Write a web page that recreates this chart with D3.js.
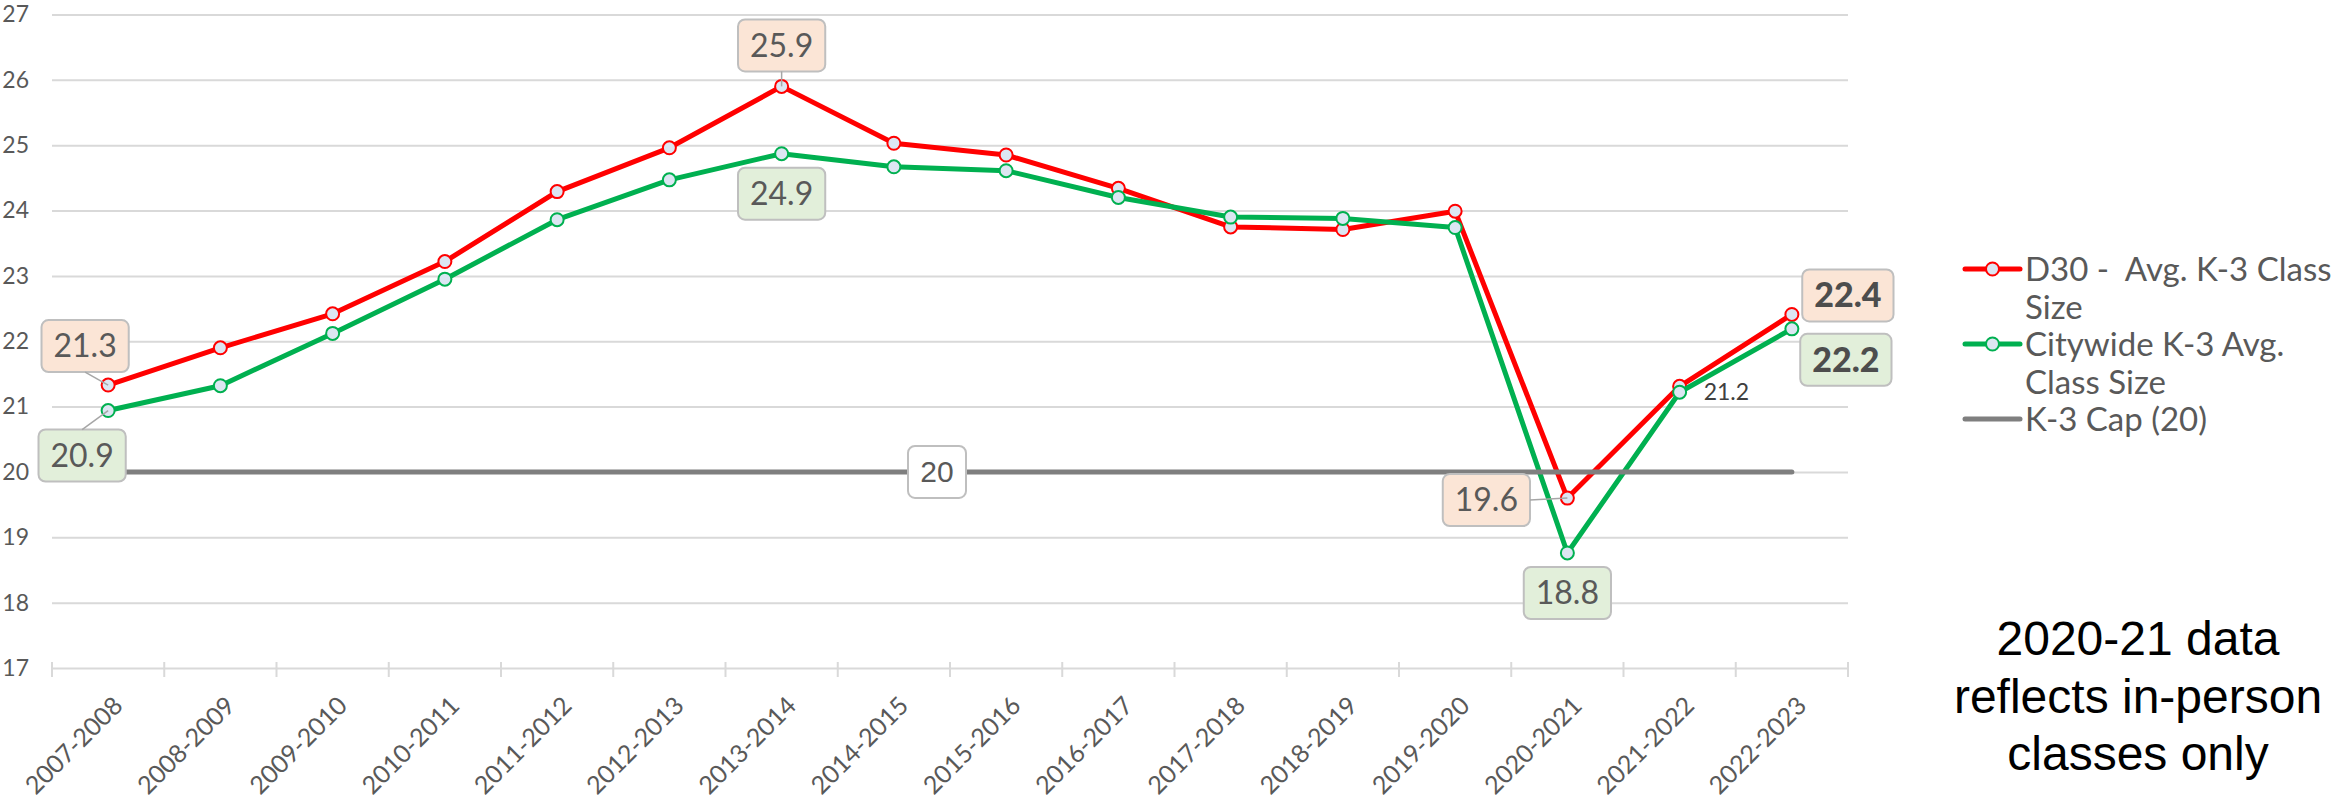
<!DOCTYPE html>
<html>
<head>
<meta charset="utf-8">
<script src="https://cdn.jsdelivr.net/npm/d3@7"></script>
<style>
  body { margin: 0; background: #fff; }
  svg { display: block; }
</style>
</head>
<body>
<svg id="chart" width="2331" height="804"></svg>
<script>
// chart data
const categories = ["2007-2008", "2008-2009", "2009-2010", "2010-2011", "2011-2012", "2012-2013",
  "2013-2014", "2014-2015", "2015-2016", "2016-2017", "2017-2018", "2018-2019", "2019-2020",
  "2020-2021", "2021-2022", "2022-2023"];
const d30 = [21.33, 21.9, 22.42, 23.22, 24.29, 24.96, 25.9, 25.03, 24.85, 24.34, 23.75, 23.71, 23.99, 19.6, 21.31, 22.41];
const citywide = [20.94, 21.32, 22.12, 22.95, 23.86, 24.47, 24.87, 24.67, 24.61, 24.2, 23.9, 23.88, 23.74, 18.76, 21.22, 22.19];
const capLine = [20, 20, 20, 20, 20, 20, 20, 20, 20, 20, 20, 20, 20, 20, 20, 20];
const yTicks = [17, 18, 19, 20, 21, 22, 23, 24, 25, 26, 27];
const legendLabels = [["D30 -  Avg. K-3 Class", "Size"], ["Citywide K-3 Avg.", "Class Size"], ["K-3 Cap (20)"]];
const noteLines = ["2020-21 data", "reflects in-person", "classes only"];

const svg = d3.select("#chart");
const plotL = 52, plotR = 1848, plotT = 14.5, plotB = 668;
const grey = "#595959";

const x = d3.scaleBand().domain(categories).range([plotL, plotR]);
const cx = i => x(categories[i]) + x.bandwidth() / 2;
const y = d3.scaleLinear().domain([17, 27]).range([plotB, plotT]);

// gridlines + y labels
svg.append("g")
  .attr("transform", `translate(${plotL},0)`)
  .call(d3.axisLeft(y).tickValues(yTicks).tickSize(-(plotR - plotL)).tickPadding(23).tickFormat(d3.format("d")))
  .call(g => g.select(".domain").remove())
  .call(g => g.selectAll("line").attr("stroke", "#d9d9d9").attr("stroke-width", 2))
  .call(g => g.selectAll("text").attr("fill", grey).style("font-family", "Lato").style("font-size", "23px"));

// category boundary ticks
svg.append("g").selectAll("line")
  .data(d3.range(categories.length + 1))
  .join("line")
  .attr("x1", i => plotL + i * x.step()).attr("x2", i => plotL + i * x.step())
  .attr("y1", plotB - 6).attr("y2", plotB + 9)
  .attr("stroke", "#d9d9d9").attr("stroke-width", 2);

// x labels
svg.append("g")
  .attr("transform", `translate(0,${plotB})`)
  .call(d3.axisBottom(x).tickSize(0))
  .call(g => g.select(".domain").remove())
  .call(g => g.selectAll("text")
    .attr("x", 0).attr("y", 0).attr("dy", "0.35em")
    .attr("text-anchor", "end")
    .attr("transform", "translate(10,33) rotate(-45)")
    .attr("fill", grey)
    .style("font-family", "Lato").style("font-size", "25px"));

const line = d3.line().x((d, i) => cx(i)).y(d => y(d));

function drawSeries(values, color) {
  svg.append("path").datum(values)
    .attr("d", line).attr("fill", "none")
    .attr("stroke", color).attr("stroke-width", 5)
    .attr("stroke-linejoin", "round");
  svg.append("g").selectAll("circle")
    .data(values).join("circle")
    .attr("cx", (d, i) => cx(i)).attr("cy", d => y(d)).attr("r", 6.5)
    .attr("fill", "#dce6f2").attr("stroke", color).attr("stroke-width", 2);
}
drawSeries(d30, "#ff0000");
drawSeries(citywide, "#00b050");

svg.append("path").datum(capLine)
  .attr("d", line).attr("fill", "none")
  .attr("stroke", "#7f7f7f").attr("stroke-width", 5).attr("stroke-linecap", "round");

// boxed data labels
const fmt = d3.format(".1f");
function box(bx, by, text, fill, opts) {
  const g = svg.append("g");
  const r = g.append("rect");
  const t = g.append("text")
    .attr("x", bx).attr("y", by).attr("dy", "0.35em")
    .attr("text-anchor", "middle")
    .attr("fill", opts.bold ? "#4d4d4d" : grey)
    .style("font-family", opts.font || "Lato")
    .style("font-size", (opts.size || 32) + "px")
    .style("font-weight", opts.bold ? "900" : "normal")
    .text(text);
  const w = opts.w || t.node().getComputedTextLength() + 24;
  const h = 52;
  r.attr("x", bx - w / 2).attr("y", by - h / 2).attr("width", w).attr("height", h)
    .attr("rx", 7).attr("fill", fill).attr("stroke", "#bfbfbf").attr("stroke-width", 2);
  return { x: bx, y: by, w, h };
}

const peach = "#fbe5d6", mint = "#e2efda";
const labelSpecs = [
  { vals: d30, i: 0, dx: -23, dy: -39, fill: peach, leader: "bottom" },
  { vals: citywide, i: 0, dx: -26, dy: 45, fill: mint, leader: "top" },
  { vals: d30, i: 6, dx: 0, dy: -41, fill: peach, leader: "bottom" },
  { vals: citywide, i: 6, dx: 0, dy: 40, fill: mint },
  { vals: d30, i: 13, dx: -81, dy: 2, fill: peach, leader: "right" },
  { vals: citywide, i: 13, dx: 0, dy: 40, fill: mint },
  { vals: d30, i: 15, dx: 56, dy: -19, fill: peach, bold: true },
  { vals: citywide, i: 15, dx: 54, dy: 31, fill: mint, bold: true }
];

labelSpecs.forEach(s => {
  const px = cx(s.i), py = y(s.vals[s.i]);
  const b = box(px + s.dx, py + s.dy, fmt(s.vals[s.i]), s.fill, { bold: s.bold, size: s.bold ? 34 : 32 });
  if (s.leader) {
    let sx = b.x, sy = b.y;
    if (s.leader === "bottom") sy = b.y + b.h / 2;
    if (s.leader === "top") sy = b.y - b.h / 2;
    if (s.leader === "right") sx = b.x + b.w / 2;
    svg.append("line")
      .attr("x1", sx).attr("y1", sy).attr("x2", px).attr("y2", py)
      .attr("stroke", "#a6a6a6").attr("stroke-width", 1.5);
  }
});

// plain label for citywide 2021-2022
svg.append("text")
  .attr("x", cx(14) + 24).attr("y", y(citywide[14])).attr("dy", "0.35em")
  .attr("fill", "#404040")
  .style("font-family", "Lato").style("font-size", "23px")
  .text(fmt(citywide[14]));

// cap label
box((cx(7) + cx(8)) / 2 - 13, y(capLine[7]), String(capLine[7]), "#ffffff",
  { font: "Liberation Sans", size: 30, w: 58 });

// legend
const legendColors = ["#ff0000", "#00b050", "#7f7f7f"];
const legendY = [269, 344, 419];
legendLabels.forEach((lines, k) => {
  const ly = legendY[k];
  svg.append("line")
    .attr("x1", 1965).attr("x2", 2020).attr("y1", ly).attr("y2", ly)
    .attr("stroke", legendColors[k]).attr("stroke-width", 5).attr("stroke-linecap", "round");
  if (k < 2) {
    svg.append("circle").attr("cx", 1992.5).attr("cy", ly).attr("r", 6.5)
      .attr("fill", "#dce6f2").attr("stroke", legendColors[k]).attr("stroke-width", 2);
  }
  const t = svg.append("text")
    .attr("x", 2025).attr("y", ly)
    .attr("fill", grey)
    .attr("xml:space", "preserve")
    .style("font-family", "Lato").style("font-size", "33px")
    .style("white-space", "pre");
  lines.forEach((ln, j) => {
    t.append("tspan").attr("x", 2025).attr("dy", j === 0 ? "0.35em" : "1.18em").text(ln);
  });
});

// note
svg.append("g").selectAll("text")
  .data(noteLines).join("text")
  .attr("x", 2138).attr("y", (d, i) => 655 + i * 57.5)
  .attr("text-anchor", "middle")
  .attr("fill", "#000")
  .style("font-family", "Liberation Sans").style("font-size", "48px")
  .text(d => d);
</script>
</body>
</html>
